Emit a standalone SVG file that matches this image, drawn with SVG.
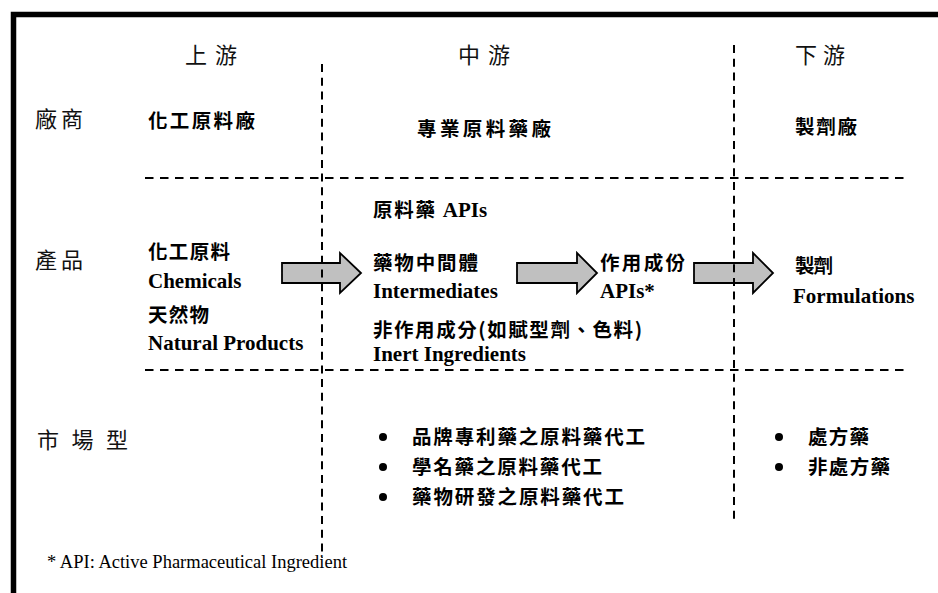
<svg xmlns="http://www.w3.org/2000/svg" width="938" height="593" viewBox="0 0 938 593">
<style>
.hd{font-family:"Noto Sans CJK TC","Noto Sans CJK SC",sans-serif;font-size:22px;font-weight:400;fill:#111}
.rw{font-family:"Noto Sans CJK TC","Noto Sans CJK SC",sans-serif;font-size:22px;font-weight:400;fill:#111}
.cj{font-family:"Noto Sans CJK TC","Noto Sans CJK SC",sans-serif;font-size:19.5px;font-weight:700;fill:#000}
.en{font-family:"Liberation Serif","Times New Roman",serif;font-size:21px;font-weight:700;fill:#000}
.fn{font-family:"Liberation Serif","Times New Roman",serif;font-size:18.5px;fill:#000}
.dv{stroke:#000;stroke-width:2;fill:none}
.dh{stroke-dasharray:8.5 6.5}
.dvv{stroke-dasharray:8 5.7}
.ar{fill:#c0c0c0;stroke:#000;stroke-width:1.8;stroke-linejoin:miter}
</style>
<rect width="938" height="593" fill="#fff"/>
<path d="M13.5,593 V14.5 H938" fill="none" stroke="#000" stroke-width="5.5"/>
<g id="headers">
<text class="hd" x="185" y="63" textLength="52">上游</text>
<text class="hd" x="458" y="63" textLength="52">中游</text>
<text class="hd" x="795" y="63" textLength="50">下游</text>
</g>
<g id="row-labels">
<text class="rw" x="35" y="127" textLength="48">廠商</text>
<text class="rw" x="35" y="268" textLength="48">產品</text>
<text class="rw" x="37" y="448" textLength="91">市 場 型</text>
</g>
<g id="node-upstream-vendor"><text class="cj" x="148" y="128" textLength="107">化工原料廠</text></g>
<g id="node-midstream-vendor"><text class="cj" x="417" y="136" textLength="134">專業原料藥廠</text></g>
<g id="node-downstream-vendor"><text class="cj" x="795" y="134" textLength="62">製劑廠</text></g>
<g id="node-chemicals">
<text class="cj" x="148" y="259" textLength="82">化工原料</text>
<text class="en" x="148" y="288">Chemicals</text>
<text class="cj" x="148" y="322" textLength="61">天然物</text>
<text class="en" x="148" y="350">Natural Products</text>
</g>
<g id="node-apis-title"><text x="373" y="217"><tspan class="cj" textLength="62">原料藥</tspan><tspan class="en" dx="6">APIs</tspan></text></g>
<g id="node-intermediates">
<text class="cj" x="373" y="270" textLength="105">藥物中間體</text>
<text class="en" x="373" y="298">Intermediates</text>
</g>
<g id="node-inert">
<text class="cj" x="373" y="337" textLength="269">非作用成分(如賦型劑、色料)</text>
<text class="en" x="373" y="361">Inert Ingredients</text>
</g>
<g id="node-active">
<text class="cj" x="600" y="270" textLength="85">作用成份</text>
<text class="en" x="600" y="298">APIs*</text>
</g>
<g id="node-formulations">
<text class="cj" x="795" y="273" textLength="38">製劑</text>
<text class="en" x="793" y="303">Formulations</text>
</g>
<g id="node-mid-market">
<circle cx="383" cy="437" r="4"/>
<circle cx="383" cy="467" r="4"/>
<circle cx="383" cy="497" r="4"/>
<text class="cj" x="412" y="444" textLength="233">品牌專利藥之原料藥代工</text>
<text class="cj" x="412" y="474" textLength="190">學名藥之原料藥代工</text>
<text class="cj" x="412" y="504" textLength="212">藥物研發之原料藥代工</text>
</g>
<g id="node-down-market">
<circle cx="779" cy="437" r="4"/>
<circle cx="779" cy="467" r="4"/>
<text class="cj" x="808" y="444" textLength="61">處方藥</text>
<text class="cj" x="808" y="474" textLength="82">非處方藥</text>
</g>
<g id="connectors">
<path class="ar" d="M282,263 H340 V253 L361,273 L340,293 V283 H282 Z"/>
<path class="ar" d="M517,263 H577 V253 L597,273 L577,293 V283 H517 Z"/>
<path class="ar" d="M694,263 H753 V253 L773,273 L753,293 V283 H694 Z"/>
</g>
<g id="dividers">
<line class="dv dh" x1="145" y1="178" x2="910" y2="178"/>
<line class="dv dh" x1="145" y1="370" x2="910" y2="370"/>
<line class="dv dvv" x1="322" y1="64" x2="322" y2="558"/>
<line class="dv dvv" x1="734" y1="45" x2="734" y2="522"/>
</g>
<g id="footnote"><text class="fn" x="47" y="568">* API: Active Pharmaceutical Ingredient</text></g>
</svg>
